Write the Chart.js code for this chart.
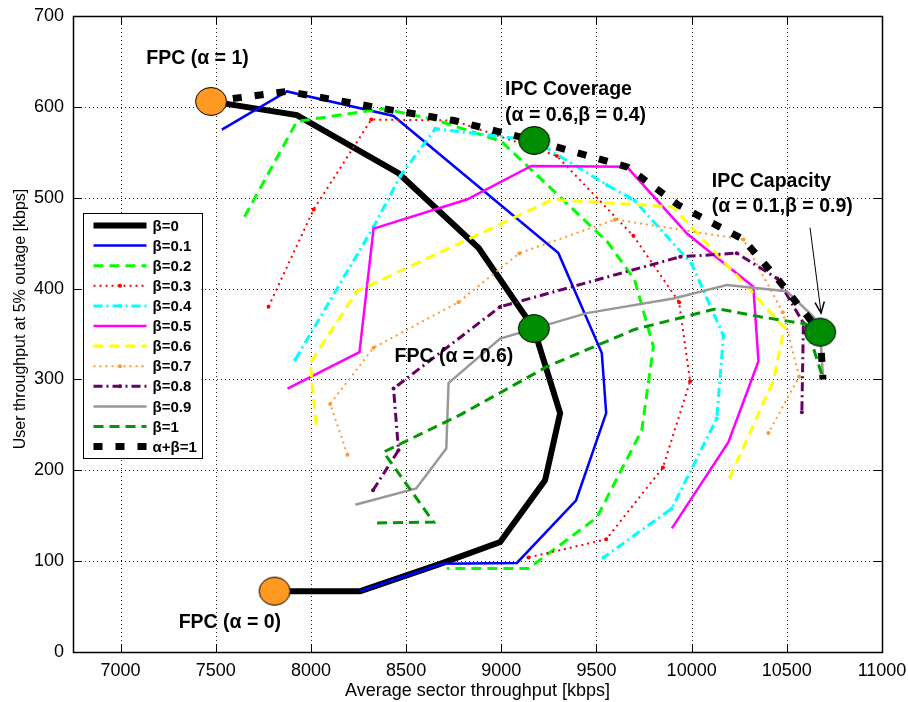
<!DOCTYPE html>
<html>
<head>
<meta charset="UTF-8" />
<title>FPC / IPC throughput tradeoff</title>
<script src="https://cdn.jsdelivr.net/npm/chart.js"></script>
<style>
  body { margin: 0; background: #fff; }
  #wrap { width: 908px; height: 702px; }
</style>
</head>
<body>
<div id="wrap"><canvas id="chart" width="908" height="702"></canvas></div>
<script>
// axis ticks
const xTicks = [7000, 7500, 8000, 8500, 9000, 9500, 10000, 10500, 11000];
const yTicks = [0, 100, 200, 300, 400, 500, 600, 700];

// curves, one per beta
const b00x = [7475, 7926, 8460, 8880, 9171, 9309, 9230, 8994, 8679, 8259, 7809];
const b00y = [606, 591, 527, 445, 356, 263, 189, 121, 97, 67, 67];
const b01x = [7532, 7874, 8434, 9300, 9528, 9551, 9393, 9082, 8690, 8259];
const b01y = [575, 617, 590, 439, 329, 263, 167, 98, 97, 67];
const b02x = [7651, 7926, 8381, 8650, 9000, 9555, 9700, 9799, 9738, 9502, 9143, 8714];
const b02y = [479, 584, 598, 586, 562, 452, 410, 336, 244, 148, 92, 92];
const b03x = [7777, 8014, 8317, 8750, 9292, 9694, 9934, 9992, 9849, 9551, 9143];
const b03y = [380, 487, 586, 585, 546, 458, 385, 298, 203, 124, 104];
const b04x = [7918, 8329, 8470, 8653, 9173, 9555, 9700, 10001, 10167, 10132, 9896, 9537];
const b04y = [322, 468, 524, 576, 563, 514, 497, 427, 348, 257, 158, 104];
const b05x = [7877, 8255, 8329, 8819, 9158, 9660, 9978, 10324, 10351, 10193, 9896];
const b05y = [290, 330, 466, 498, 535, 534, 460, 402, 320, 231, 136];
const b06x = [8028, 7996, 8241, 9270, 9900, 10300, 10487, 10430, 10185];
const b06y = [250, 318, 397, 498, 490, 400, 357, 299, 185];
const b07x = [8192, 8101, 8329, 8775, 9095, 9598, 10272, 10479, 10565, 10403];
const b07y = [217, 273, 335, 385, 439, 476, 454, 374, 303, 241];
const b08x = [8326, 8460, 8434, 8994, 9940, 10237, 10450, 10587, 10579];
const b08y = [178, 222, 290, 380, 435, 439, 411, 362, 264];
const b09x = [8233, 8553, 8711, 8723, 8994, 9449, 9904, 10185, 10500, 10640, 10675, 10690];
const b09y = [162, 180, 224, 296, 345, 373, 389, 404, 397, 369, 352, 303];
const b10x = [8347, 8644, 8381, 8784, 9240, 9700, 10132, 10360, 10600, 10690];
const b10y = [142, 143, 220, 261, 314, 355, 378, 369, 361, 301];
// alpha + beta = 1 envelope
const abx = [7475, 7875, 8381, 8750, 9173, 9660, 9930, 10272, 10450, 10675, 10690];
const aby = [606, 617, 598, 585, 563, 534, 492, 454, 411, 352, 300];

// highlighted operating points
const fpcX = [7475, 7809];
const fpcY = [606, 67];
const ipcX = [9173, 9171, 10675];
const ipcY = [563, 356, 352];

const seriesNames = ['β=0', 'β=0.1', 'β=0.2', 'β=0.3', 'β=0.4', 'β=0.5', 'β=0.6',
  'β=0.7', 'β=0.8', 'β=0.9', 'β=1', 'α+β=1'];
const seriesX = [b00x, b01x, b02x, b03x, b04x, b05x, b06x, b07x, b08x, b09x, b10x, abx];
const seriesY = [b00y, b01y, b02y, b03y, b04y, b05y, b06y, b07y, b08y, b09y, b10y, aby];

// labels drawn on the plot (data coordinates, left edge / middle)
const noteText = ['FPC (α = 1)', 'IPC Coverage', '(α = 0.6,β = 0.4)', 'IPC Capacity',
  '(α = 0.1,β = 0.9)', 'FPC (α = 0.6)', 'FPC (α = 0)'];
const noteX = [7135, 9020, 9020, 10106, 10106, 8439, 7305];
const noteY = [653, 619, 590, 518, 490, 325, 32];
const arrowFrom = [10622, 467];
const arrowTo = [10680, 373];

// styles
const colors = ['#000000', '#0000ff', '#00ff00', '#ff0000', '#00ffff', '#ff00ff', '#ffff00',
  '#ff9933', '#660066', '#999999', '#009900', '#000000'];
const widths = [6, 2.5, 3, 2, 3, 2.5, 3, 2, 3, 2.5, 3, 7];
const dashes = [[], [], [10, 6], [2, 4], [9, 4, 2, 4], [], [10, 6], [2, 4], [9, 4, 2, 4], [], [10, 6], [9, 13]];
const dots = [0, 0, 0, 2, 2, 0, 0, 2, 2, 0, 0, 0];

const FONT = "'Liberation Sans', Arial, sans-serif";
Chart.defaults.font.family = FONT;
Chart.defaults.color = '#000';

function ellipse(color) {
  const c = document.createElement('canvas');
  c.width = 34; c.height = 31;
  const g = c.getContext('2d');
  g.beginPath();
  g.ellipse(17, 15.5, 15.5, 14, 0, 0, 2 * Math.PI);
  g.fillStyle = color; g.fill();
  g.lineWidth = 1; g.strokeStyle = '#000'; g.stroke();
  return c;
}

const datasets = seriesNames.map((name, i) => ({
  label: name,
  data: seriesX[i].map((v, k) => ({ x: v, y: seriesY[i][k] })),
  showLine: true,
  borderColor: colors[i],
  backgroundColor: colors[i],
  borderWidth: widths[i],
  borderDash: dashes[i],
  borderCapStyle: 'butt',
  pointRadius: dots[i],
  pointBorderWidth: 0,
  tension: 0,
  order: 30 - i
}));
datasets.push({
  label: 'fpc', data: fpcX.map((v, k) => ({ x: v, y: fpcY[k] })),
  showLine: false, pointStyle: ellipse('#ff9922'), pointRadius: 15, order: 1
});
datasets.push({
  label: 'ipc', data: ipcX.map((v, k) => ({ x: v, y: ipcY[k] })),
  showLine: false, pointStyle: ellipse('#008c00'), pointRadius: 15, order: 0
});

// dotted grid + inward tick marks + box
const gridPlugin = {
  id: 'grid',
  beforeDatasetsDraw(chart) {
    const { ctx, chartArea: a, scales: { x, y } } = chart;
    ctx.save();
    ctx.lineWidth = 1;
    ctx.strokeStyle = '#222';
    ctx.setLineDash([1, 3]);
    xTicks.forEach(v => {
      const px = Math.round(x.getPixelForValue(v)) + 0.5;
      if (px < a.left + 2 || px > a.right - 2) return;
      ctx.beginPath(); ctx.moveTo(px, a.top); ctx.lineTo(px, a.bottom); ctx.stroke();
    });
    yTicks.forEach(v => {
      const py = Math.round(y.getPixelForValue(v)) + 0.5;
      if (py < a.top + 2 || py > a.bottom - 2) return;
      ctx.beginPath(); ctx.moveTo(a.left, py); ctx.lineTo(a.right, py); ctx.stroke();
    });
    ctx.restore();
  },
  afterDraw(chart) {
    const { ctx, chartArea: a, scales: { x, y } } = chart;
    ctx.save();
    ctx.strokeStyle = '#000';
    ctx.lineWidth = 1;
    const t = 8;
    xTicks.forEach(v => {
      const px = Math.round(x.getPixelForValue(v)) + 0.5;
      ctx.beginPath();
      ctx.moveTo(px, a.bottom); ctx.lineTo(px, a.bottom - t);
      ctx.moveTo(px, a.top); ctx.lineTo(px, a.top + t);
      ctx.stroke();
    });
    yTicks.forEach(v => {
      const py = Math.round(y.getPixelForValue(v)) + 0.5;
      ctx.beginPath();
      ctx.moveTo(a.left, py); ctx.lineTo(a.left + t, py);
      ctx.moveTo(a.right, py); ctx.lineTo(a.right - t, py);
      ctx.stroke();
    });
    ctx.lineWidth = 1.5;
    ctx.strokeRect(Math.round(a.left) + 0.5, Math.round(a.top) + 0.5, Math.round(a.width), Math.round(a.height));
    // y axis title
    ctx.font = '16px ' + FONT;
    ctx.fillStyle = '#000';
    ctx.textAlign = 'center';
    ctx.textBaseline = 'middle';
    ctx.translate(20.5, (a.top + a.bottom) / 2 - 15);
    ctx.rotate(-Math.PI / 2);
    ctx.fillText('User throughput at 5% outage [kbps]', 0, 0);
    ctx.restore();
  }
};

// legend box inside the axes
const legendPlugin = {
  id: 'boxLegend',
  afterDatasetsDraw(chart) {
    const { ctx, chartArea: a } = chart;
    const left = a.left + 9.5, top = a.top + 197, w = 119, h = 245;
    ctx.save();
    ctx.fillStyle = '#fff';
    ctx.fillRect(left, top, w, h);
    ctx.lineWidth = 1;
    ctx.strokeStyle = '#000';
    ctx.strokeRect(Math.round(left) + 0.5, Math.round(top) + 0.5, w, h);
    ctx.font = 'bold 15px ' + FONT;
    ctx.textBaseline = 'middle';
    ctx.textAlign = 'left';
    seriesNames.forEach((name, i) => {
      const yy = top + 12.5 + i * 20.1;
      const x1 = left + 11, x2 = left + 64;
      ctx.save();
      ctx.strokeStyle = colors[i];
      ctx.lineWidth = widths[i];
      ctx.lineCap = 'butt';
      ctx.setLineDash(dashes[i]);
      ctx.beginPath(); ctx.moveTo(x1, yy); ctx.lineTo(x2, yy); ctx.stroke();
      if (dots[i]) {
        ctx.fillStyle = colors[i];
        ctx.beginPath(); ctx.arc((x1 + x2) / 2, yy, dots[i], 0, 2 * Math.PI); ctx.fill();
      }
      ctx.restore();
      ctx.fillStyle = '#000';
      ctx.fillText(name, left + 70, yy + 1);
    });
    ctx.restore();
  }
};

// text notes and arrow
const notePlugin = {
  id: 'notes',
  afterDraw(chart) {
    const { ctx, scales: { x, y } } = chart;
    ctx.save();
    ctx.font = 'bold 19.5px ' + FONT;
    ctx.fillStyle = '#000';
    ctx.textBaseline = 'middle';
    ctx.textAlign = 'left';
    noteText.forEach((s, i) => ctx.fillText(s, x.getPixelForValue(noteX[i]), y.getPixelForValue(noteY[i])));
    const x0 = x.getPixelForValue(arrowFrom[0]), y0 = y.getPixelForValue(arrowFrom[1]);
    const x1 = x.getPixelForValue(arrowTo[0]), y1 = y.getPixelForValue(arrowTo[1]);
    ctx.strokeStyle = '#000';
    ctx.lineWidth = 1;
    ctx.beginPath(); ctx.moveTo(x0, y0); ctx.lineTo(x1, y1); ctx.stroke();
    const ang = Math.atan2(y1 - y0, x1 - x0), len = 12, spread = 0.4;
    ctx.lineWidth = 1.5;
    ctx.beginPath();
    ctx.moveTo(x1 - len * Math.cos(ang - spread), y1 - len * Math.sin(ang - spread));
    ctx.lineTo(x1, y1);
    ctx.lineTo(x1 - len * Math.cos(ang + spread), y1 - len * Math.sin(ang + spread));
    ctx.stroke();
    ctx.restore();
  }
};

new Chart(document.getElementById('chart').getContext('2d'), {
  type: 'scatter',
  data: { datasets },
  options: {
    responsive: false,
    animation: false,
    events: [],
    layout: { padding: { left: 0, top: 15, right: 26, bottom: 0 } },
    plugins: { legend: { display: false }, tooltip: { enabled: false } },
    scales: {
      x: {
        type: 'linear', min: 6750, max: 11000,
        afterBuildTicks: s => { s.ticks = xTicks.map(v => ({ value: v })); },
        afterFit: s => { s.height = 50; s.paddingLeft = 0; s.paddingRight = 0; },
        grid: { display: false, drawTicks: false },
        border: { display: false },
        ticks: { font: { size: 18 }, padding: 8, maxRotation: 0, color: '#000', callback: v => String(v) },
        title: { display: true, text: 'Average sector throughput [kbps]', font: { size: 18 }, padding: { top: 0, bottom: 0 }, color: '#000' }
      },
      y: {
        type: 'linear', min: 0, max: 700,
        afterBuildTicks: s => { s.ticks = yTicks.map(v => ({ value: v })); },
        afterFit: s => { s.width = 73; s.paddingTop = 0; s.paddingBottom = 0; },
        grid: { display: false, drawTicks: false },
        border: { display: false },
        ticks: { font: { size: 18 }, padding: 9, color: '#000', callback: v => String(v) },
        title: { display: false }
      }
    }
  },
  plugins: [gridPlugin, legendPlugin, notePlugin]
});
</script>
</body>
</html>
